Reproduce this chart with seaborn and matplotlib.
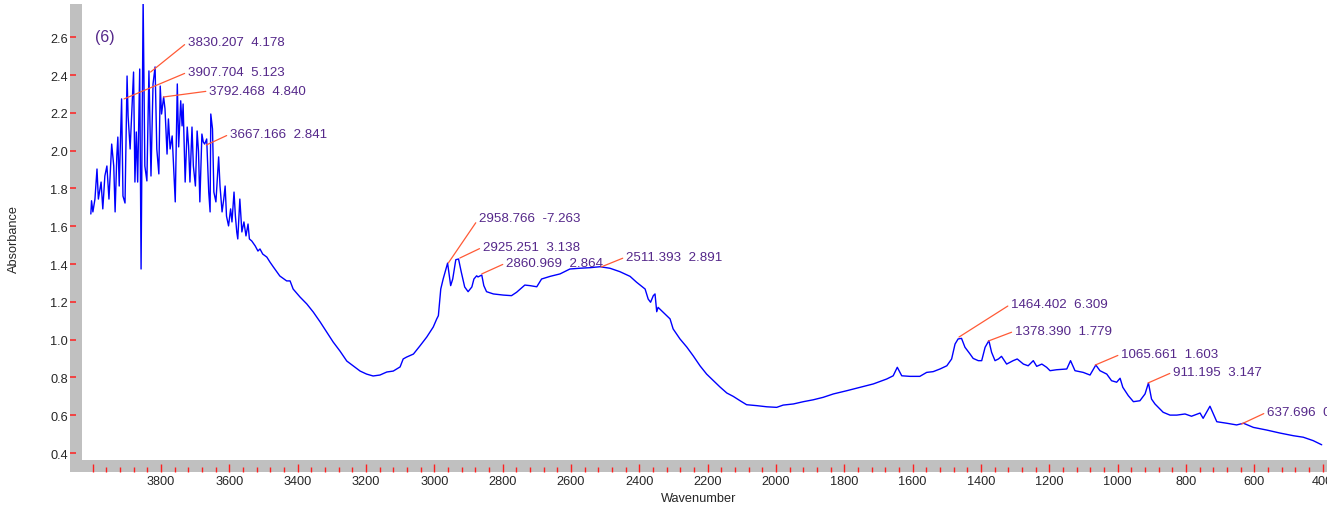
"""
IR absorbance spectrum with labelled peaks
"""
import matplotlib
matplotlib.use("Agg")
import pandas as pd
from matplotlib import pyplot as plt
from matplotlib.patches import Rectangle
from matplotlib.ticker import FixedLocator
import seaborn as sns

sns.set_style("white")
plt.rcParams['font.family'] = ['Liberation Sans', 'DejaVu Sans']

# spectrum (wavenumber, absorbance)
wavenumber = [
    4005, 4003, 3999, 3993, 3987, 3983, 3975, 3970, 3964, 3958, 3952, 3944,
    3938, 3934, 3929, 3926, 3922, 3915, 3911, 3905, 3899, 3896, 3890, 3880,
    3876, 3872, 3868, 3862, 3858, 3852, 3847, 3841, 3835, 3829, 3823, 3817,
    3812, 3806, 3802, 3798, 3792, 3788, 3782, 3778, 3773, 3767, 3758, 3752,
    3748, 3742, 3738, 3735, 3729, 3723, 3719, 3715, 3709, 3705, 3699, 3694,
    3690, 3686, 3680, 3676, 3672, 3666, 3660, 3656, 3654, 3649, 3645, 3639,
    3631, 3627, 3621, 3616, 3612, 3608, 3602, 3596, 3592, 3586, 3582, 3578,
    3575, 3569, 3563, 3557, 3551, 3545, 3541, 3534, 3524, 3516, 3510, 3502,
    3490, 3481, 3471, 3452, 3432, 3422, 3413, 3393, 3373, 3354, 3334, 3315,
    3296, 3276, 3256, 3237, 3217, 3198, 3179, 3159, 3139, 3120, 3100, 3091,
    3081, 3061, 3042, 3022, 3003, 2993, 2988, 2981, 2974, 2961, 2952, 2946,
    2937, 2929, 2921, 2911, 2901, 2890, 2884, 2876, 2872, 2861, 2855, 2847,
    2827, 2798, 2774, 2759, 2735, 2720, 2700, 2686, 2661, 2632, 2603, 2574,
    2544, 2515, 2486, 2457, 2427, 2408, 2383, 2374, 2367, 2359, 2354, 2349,
    2345, 2330, 2310, 2301, 2281, 2261, 2242, 2222, 2203, 2183, 2164, 2144,
    2125, 2105, 2086, 2056, 2027, 1998, 1979, 1949, 1920, 1891, 1862, 1832,
    1793, 1754, 1715, 1676, 1657, 1645, 1632, 1608, 1579, 1559, 1540, 1520,
    1500, 1486, 1476, 1467, 1457, 1447, 1432, 1423, 1408, 1398, 1388, 1377,
    1369, 1359, 1349, 1340, 1325, 1306, 1294, 1276, 1262, 1247, 1237, 1222,
    1208, 1198, 1179, 1149, 1138, 1125, 1101, 1081, 1064, 1052, 1032, 1018,
    1003, 993, 985, 969, 954, 935, 920, 910, 901, 891, 881, 867,
    847, 827, 803, 784, 759, 750, 730, 710, 681, 652, 632, 603,
    564, 525, 486, 457, 428, 403,
]
absorbance = [
    1.665, 1.735, 1.676, 1.744, 1.903, 1.744, 1.834, 1.692, 1.866, 1.919, 1.744, 2.035,
    1.919, 1.676, 1.972, 2.072, 1.813, 2.274, 1.760, 1.723, 2.395, 2.184, 2.009, 2.416,
    1.834, 2.099, 1.834, 2.432, 1.374, 2.800, 1.919, 1.840, 2.422, 1.866, 2.353, 2.443,
    2.009, 1.877, 2.342, 2.194, 2.284, 2.221, 1.982, 2.168, 2.009, 2.078, 1.729, 2.353,
    2.020, 2.264, 2.131, 2.247, 1.834, 2.125, 2.025, 1.834, 2.125, 1.919, 1.813, 2.104,
    1.998, 1.729, 2.088, 2.046, 2.035, 2.062, 1.781, 1.676, 2.194, 2.115, 1.781, 1.729,
    1.967, 1.813, 1.676, 1.744, 1.813, 1.654, 1.602, 1.692, 1.623, 1.781, 1.654, 1.570,
    1.533, 1.744, 1.570, 1.623, 1.549, 1.612, 1.533, 1.522, 1.496, 1.469, 1.480, 1.453,
    1.437, 1.411, 1.385, 1.337, 1.311, 1.311, 1.268, 1.226, 1.189, 1.146, 1.094, 1.041,
    0.988, 0.940, 0.887, 0.861, 0.834, 0.818, 0.808, 0.813, 0.829, 0.834, 0.856, 0.898,
    0.908, 0.924, 0.967, 1.014, 1.067, 1.109, 1.127, 1.268, 1.321, 1.405, 1.286, 1.321,
    1.423, 1.427, 1.358, 1.279, 1.254, 1.279, 1.321, 1.338, 1.332, 1.342, 1.286, 1.254,
    1.242, 1.236, 1.233, 1.251, 1.289, 1.286, 1.280, 1.321, 1.335, 1.348, 1.374, 1.378,
    1.381, 1.386, 1.378, 1.360, 1.335, 1.304, 1.268, 1.215, 1.198, 1.233, 1.242, 1.148,
    1.171, 1.145, 1.110, 1.057, 1.004, 0.961, 0.914, 0.861, 0.818, 0.783, 0.750, 0.718,
    0.700, 0.677, 0.656, 0.651, 0.645, 0.642, 0.654, 0.660, 0.672, 0.682, 0.695, 0.713,
    0.730, 0.748, 0.766, 0.792, 0.809, 0.854, 0.809, 0.806, 0.806, 0.827, 0.831, 0.845,
    0.862, 0.898, 0.977, 1.004, 1.007, 0.960, 0.924, 0.901, 0.889, 0.889, 0.960, 0.995,
    0.933, 0.889, 0.898, 0.912, 0.871, 0.889, 0.898, 0.871, 0.862, 0.889, 0.859, 0.871,
    0.854, 0.836, 0.841, 0.845, 0.889, 0.836, 0.827, 0.813, 0.866, 0.836, 0.818, 0.783,
    0.775, 0.796, 0.748, 0.704, 0.672, 0.677, 0.713, 0.771, 0.686, 0.660, 0.642, 0.616,
    0.601, 0.601, 0.607, 0.595, 0.612, 0.584, 0.648, 0.566, 0.558, 0.549, 0.558, 0.536,
    0.522, 0.506, 0.492, 0.484, 0.466, 0.444,
]

# peak labels
peak_wn = [3830.207, 3907.704, 3792.468, 3667.166, 2958.766, 2925.251, 2860.969,
           2511.393, 1464.402, 1378.390, 1065.661, 911.195, 637.696]
peak_tag = ['4.178', '5.123', '4.840', '2.841', '-7.263', '3.138', '2.864',
            '2.891', '6.309', '1.779', '1.603', '3.147', '0.879']
peak_abs = [2.416, 2.274, 2.284, 2.030, 1.406, 1.432, 1.348,
            1.385, 1.014, 0.993, 0.866, 0.771, 0.554]
# where each label sits (wavenumber, absorbance)
label_at = [(3721, 2.575), (3721, 2.416), (3659, 2.316), (3598, 2.088),
            (2869, 1.644), (2858, 1.490), (2790, 1.406), (2439, 1.438),
            (1312, 1.189), (1301, 1.046), (990, 0.924), (838, 0.829),
            (563, 0.617)]

y_ticks = [0.4, 0.6, 0.8, 1.0, 1.2, 1.4, 1.6, 1.8, 2.0, 2.2, 2.4, 2.6]
x_ticks = [4000, 3800, 3600, 3400, 3200, 3000, 2800, 2600, 2400, 2200, 2000,
           1800, 1600, 1400, 1200, 1000, 800, 600, 400]

purple = '#55288a'
leader = '#ff5a36'
tick_red = '#ff2020'
band = '#c0c0c0'


def main():
    df = pd.DataFrame({'wavenumber': wavenumber, 'absorbance': absorbance})

    fig = plt.figure(figsize=(13.43, 5.10), dpi=100)
    W, H = 1343, 510
    ax = fig.add_axes([70 / W, (H - 473) / H, 1257 / W, 468 / H])
    ax.set_axisbelow(False)

    sns.lineplot(data=df, x='wavenumber', y='absorbance', sort=False,
                 estimator=None, color='#0000ff', lw=1.0, ax=ax, zorder=3)

    ax.set_xlim(4066, 387.5)
    ax.set_ylim(0.300, 2.776)
    for s in ax.spines.values():
        s.set_visible(False)

    # grey frame bands on the left and bottom
    ax.add_patch(Rectangle((0, 0), 12 / 1257, 1, transform=ax.transAxes,
                           facecolor=band, edgecolor='none', zorder=0.1))
    ax.add_patch(Rectangle((0, 0), 1, 12 / 468, transform=ax.transAxes,
                           facecolor=band, edgecolor='none', zorder=0.1))

    ax.set_yticks(y_ticks)
    ax.set_yticklabels([f'{v:.1f}' for v in y_ticks])
    ax.set_xticks(x_ticks)
    ax.set_xticklabels([''] + [str(v) for v in x_ticks[1:]])
    minors = [v for v in range(400, 4001, 40) if v % 200 != 0]
    ax.xaxis.set_minor_locator(FixedLocator(minors))

    ax.tick_params(axis='y', direction='in', length=4.5, width=1.1,
                   color=tick_red, pad=1.5, labelsize=9.2, left=True)
    ax.tick_params(axis='x', which='major', direction='in', length=5.5,
                   width=1.0, color=tick_red, pad=2.5, labelsize=9.2,
                   bottom=True)
    ax.tick_params(axis='x', which='minor', direction='in', length=3.3,
                   width=1.0, color=tick_red, bottom=True)

    ax.set_xlabel('Wavenumber', fontsize=9.2, labelpad=3)
    ax.set_ylabel('Absorbance', fontsize=9.2)
    ax.yaxis.set_label_coords(-0.040, 0.5)

    ax.text(0.0199, 0.930, '(6)', transform=ax.transAxes, fontsize=11.5,
            color=purple, ha='left', va='center')

    for wn, tag, a, (lx, ly) in zip(peak_wn, peak_tag, peak_abs, label_at):
        ax.annotate(f'{wn:.3f}  {tag}', xy=(wn, a), xytext=(lx, ly),
                    fontsize=9.6, color=purple, ha='left', va='center',
                    arrowprops=dict(arrowstyle='-', color=leader, lw=0.9,
                                    shrinkA=0, shrinkB=0, relpos=(0, 0.5)),
                    zorder=4)

    # the source image is cut off on the right
    fig.add_artist(Rectangle((1327 / W, 0), 0.05, 1, transform=fig.transFigure,
                             facecolor='white', edgecolor='none', zorder=10))

    fig.savefig('out.png', dpi=100)


if __name__ == '__main__':
    main()
